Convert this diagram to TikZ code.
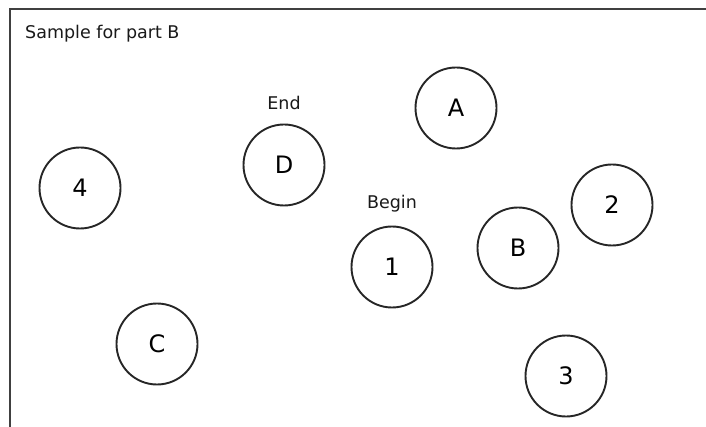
\documentclass[tikz,border=0pt]{standalone}
\usepackage{fontspec}
\setmainfont{DejaVu Sans}
\begin{document}
\begin{tikzpicture}[x=1pt,y=-1pt,
    state/.style={circle,draw=black!85,line width=1.9pt,inner sep=0pt,
      minimum size=81pt,font=\fontsize{24}{27}\selectfont,text=black},
    tag/.style={font=\fontsize{17.5}{20}\selectfont,text=black!90,inner sep=0pt},
    frame/.style={draw=black!75,line width=2pt}]
  \useasboundingbox (0,0) rectangle (706,427);
  % open frame: top and left edges only
  \coordinate (tr) at (706,9);
  \coordinate (tl) at (10,9);
  \coordinate (bl) at (10,427);
  \draw[frame] (tr) -- (tl) -- (bl);
  \node[tag,anchor=base west] (title) at (25,39) {Sample for part B};
  % states
  \node[state] (A)  at (456,108) {A};
  \node[state] (D)  at (284,165) {D};
  \node[state] (n4) at (80,188)  {4};
  \node[state] (n2) at (612,205) {2};
  \node[state] (B)  at (518,248) {B};
  \node[state] (n1) at (392,267) {1};
  \node[state] (C)  at (157,344) {C};
  \node[state] (n3) at (566,376) {3};
  % start / end markers
  \node[tag,anchor=base] (end)   at (284,110) {End};
  \node[tag,anchor=base] (begin) at (392,209) {Begin};
\end{tikzpicture}
\end{document}
